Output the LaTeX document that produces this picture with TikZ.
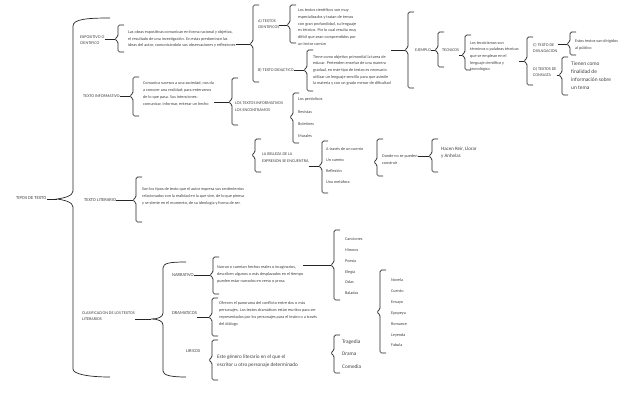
\documentclass[tikz,border=0pt]{standalone}
\usepackage{fontspec}
\setmainfont{Carlito}
\definecolor{tinta}{rgb}{0.25,0.25,0.25}

\tikzset{
  etiq/.style={anchor=west,inner sep=0pt,align=left,text=tinta,font=\fontsize{4.2}{6.7}\selectfont},
  grande/.style={etiq,font=\fontsize{5.4}{8.2}\selectfont},
  lin/.style={line width=0.7pt,draw=black!85},
  llave/.style={lin,rounded corners=1.5pt}
}
% brace: name, x, top, bottom, tip
\newcommand{\corchete}[5]{%
  \draw[llave] (#2+6,#3) -- (#2,#3) -- (#2,#5-2.5) -- (#2-3.5,#5) -- (#2,#5+2.5) -- (#2,#4) -- (#2+6,#4);
  \coordinate (#1) at (#2-3.5,#5);}

\begin{document}
\begin{tikzpicture}[x=1pt,y=-1pt]
\useasboundingbox (0,0) rectangle (638,413);
  % main brace
  \draw[lin] (110,18) .. controls (88,18) and (73,19) .. (73,26) -- (73,191)
    .. controls (73,196) and (64,198) .. (57,199) coordinate (k0)
    .. controls (64,200) and (73,202) .. (73,207) -- (73,369)
    .. controls (73,374) and (88,377) .. (110,377);
  \node[etiq,font=\fontsize{4.6}{6}\selectfont] (tipos) at (16,198) {TIPOS DE TEXTO};
  \draw[lin] (tipos.east |- k0) -- (k0);

  % expositivo
  \node[etiq] (expo) at (80,40) {EXPOSITIVO O\\CIENTIFICO};
  \corchete{k1}{118}{25}{52}{39}
  \draw[lin] (expo.east |- k1) -- (k1);
  \node[etiq] (expotxt) at (128,39) {Las obras expositivas comunican en forma racional y objetiva,\\el resultado de una investigación. En estas predominan las\\ideas del autor, comunicándolo sus observaciones y reflexiones};
  \corchete{k2}{253}{5}{82}{44}
  \draw[lin] (expotxt.east |- k2) -- (k2);
  \node[etiq] (cient) at (258,24) {A) TEXTOS\\CIENTIFICOS};
  \corchete{k3}{290}{5}{43}{25}
  \draw[lin] (cient.east |- k3) -- (k3);
  \node[etiq] (cienttxt) at (298,27) {Los textos científicos son muy\\especializados y tratan de temas\\con gran profundidad, su lenguaje\\es técnico. Por lo cual resulta muy\\difícil que sean comprendidos por\\un lector común};
  \node[etiq] (didac) at (258,70) {B) TEXTO DIDACTICO};
  \corchete{k4}{307}{50}{91}{70}
  \draw[lin] (didac.east |- k4) -- (k4);
  \node[etiq] (didtxt) at (313,70.4) {Tiene como objetivo primordial la tarea de\\educar. Pretenden enseñar de una manera\\gradual, en este tipo de textos es necesario\\utilizar un lenguaje sencillo para que asimile\\la materia y con un grado menor de dificultad};
  \corchete{k5}{408}{12}{88}{50}
  \draw[lin] (didtxt.east |- k5) -- (k5);
  \node[etiq] (ejemplo) at (415,50) {EJEMPLO};
  \corchete{k6}{438}{32}{67}{50}
  \draw[lin] (ejemplo.east |- k6) -- (k6);
  \node[etiq] (tecnicos) at (442,50) {TECNICOS};
  \corchete{k7}{465}{35}{70}{55}
  \draw[lin] (tecnicos.east |- k7) -- (k7);
  \node[etiq] (tectxt) at (470,56.5) {Los tecnicismos son\\términos o palabras técnicas\\que se emplean en el\\lenguaje científico y\\tecnológico};
  \corchete{k8}{527}{37}{85}{61}
  \draw[lin] (tectxt.east |- k8) -- (k8);
  \node[etiq] (divul) at (533,48) {C) TEXTO DE\\DIVULGACION};
  \corchete{k9}{570}{32}{55}{44}
  \draw[lin] (divul.east |- k9) -- (k9);
  \node[etiq] (divtxt) at (575,45) {Estos textos van dirigidos\\al público};
  \node[etiq] (consul) at (533,72) {D) TEXTOS DE\\CONSULTA};
  \corchete{k10}{562}{57}{95}{75}
  \draw[lin] (consul.east |- k10) -- (k10);
  \node[grande] (contxt) at (571,75.8) {Tienen como\\finalidad de\\información sobre\\un tema};

  % informativo
  \node[etiq] (info) at (83,96) {TEXTO INFORMATIVO};
  \corchete{k11}{133}{77}{116}{96}
  \draw[lin] (info.east |- k11) -- (k11);
  \node[etiq] (infotxt) at (143,93.8) {Comunica sucesos a una sociedad, nos da\\a conocer una realidad; para enterarnos\\de lo que pasa. Sus intenciones:\\comunicar, informar, enterar un hecho};
  \corchete{k12}{232}{78}{125}{102}
  \draw[lin] (infotxt.east |- k12) -- (k12);
  \node[etiq] (encont) at (235,106.5) {LOS TEXTOS INFORMATIVOS\\LOS ENCONTRAMOS};
  \corchete{k13}{293}{93}{143}{117}
  \node[etiq] (peri) at (298,99) {Los periódicos};
  \node[etiq] (rev) at (298,112) {Revistas};
  \node[etiq] (bol) at (298,124) {Boletines};
  \node[etiq] (mur) at (298,136) {Murales};
  \corchete{k14}{255}{139}{172}{155}
  \node[etiq] (belleza) at (262,158) {LA BELLEZA DE LA\\EXPRESION SE ENCUENTRA};
  \corchete{k15}{322}{141}{193}{166}
  \draw[lin] (belleza.east |- k15) -- (k15);
  \node[etiq] (traves) at (326,149) {A través de un cuento};
  \node[etiq] (cuento1) at (326,160) {Un cuento};
  \node[etiq] (reflex) at (326,171) {Reflexión};
  \node[etiq] (metaf) at (326,182) {Una metáfora};
  \corchete{k16}{377}{139}{176}{162}
  \node[etiq] (donde) at (382,159.5) {Donde no se pueden\\construir};
  \corchete{k17}{432}{139}{172}{156}
  \draw[lin] (donde.east |- k17) -- (k17);
  \node[etiq,font=\fontsize{5}{7}\selectfont] (hacen) at (441,152.5) {Hacen Reír, Llorar\\y Anhelar.};

  % literario
  \node[etiq,font=\fontsize{4.5}{6}\selectfont] (literario) at (84,200) {TEXTO LITERARIO};
  \corchete{k18}{136}{177}{222}{200}
  \draw[lin] (literario.east |- k18) -- (k18);
  \node[etiq] (littxt) at (142,196.5) {Son los tipos de texto que el autor expresa sus sentimientos\\relacionados con la realidad en la que vive, de lo que piensa\\y se siente en el momento, de su ideología y forma de ser.};

  % clasificacion
  \node[etiq] (clasif) at (82,316) {CLASIFICACION DE LOS TEXTOS\\LITERARIOS};
  \draw[lin] (186,262) .. controls (170,262) and (163,263) .. (163,268) -- (163,313)
    .. controls (163,317) and (158,319) .. (151,319) coordinate (k20)
    .. controls (158,319) and (163,321) .. (163,325) -- (163,371)
    .. controls (163,375) and (170,377) .. (186,377);
  \draw[lin] (clasif.east |- k20) -- (k20);
  \node[etiq,font=\fontsize{4.5}{6}\selectfont] (narr) at (172,275) {NARRATIVO};
  \corchete{k21}{213}{257}{294}{275}
  \draw[lin] (narr.east |- k21) -- (k21);
  \node[etiq,font=\fontsize{4.5}{6}\selectfont] (dram) at (172,313) {DRAMATICOS};
  \corchete{k22}{212}{298}{336}{317}
  \draw[lin] (dram.east |- k22) -- (k22);
  \node[etiq,font=\fontsize{4.5}{6}\selectfont] (liric) at (186,351) {LIRICOS};
  \corchete{k23}{212}{340}{380}{360}
  \node[etiq] (narrtxt) at (217,274.5) {Narran o cuentan hechos reales o imaginarios,\\describen algunos o más desplazados en el tiempo\\pueden estar narrados en verso o prosa};
  \node[etiq,font=\fontsize{4.2}{7.2}\selectfont] (dramtxt) at (219,314) {Ofrecen el panorama del conflicto entre dos o más\\personajes. Los textos dramáticos están escritos para ser\\representados por los personajes para el teatro o a través\\del diálogo};
  \node[etiq,font=\fontsize{5.2}{8}\selectfont] (lirtxt) at (217,361) {Este género literario en el que el\\escritor u otro personaje determinado};

  \corchete{k24}{334}{230}{300}{265}
  \draw[lin] (narrtxt.east |- k24) -- (k24);
  \node[etiq] (canc) at (345,239) {Canciones};
  \node[etiq] (himn) at (345,250) {Himnos};
  \node[etiq] (poes) at (345,261) {Poesía};
  \node[etiq] (eleg) at (345,272) {Elegía};
  \node[etiq] (odas) at (345,282) {Odas};
  \node[etiq] (bala) at (345,293) {Baladas};
  \corchete{k25}{380}{270}{353}{312}
  \node[etiq] (novela) at (391,280) {Novela};
  \node[etiq] (cuento2) at (391,291) {Cuento};
  \node[etiq] (ensayo) at (391,302) {Ensayo};
  \node[etiq] (epop) at (391,313) {Epopeya};
  \node[etiq] (roman) at (391,324) {Romance};
  \node[etiq] (leyen) at (391,335) {Leyenda};
  \node[etiq] (fabula) at (391,345) {Fabula};
  \corchete{k26}{334}{335}{373}{353}
  \node[etiq,font=\fontsize{5.3}{7}\selectfont] (trag) at (342,342) {Tragedia};
  \node[etiq,font=\fontsize{5.3}{7}\selectfont] (drama) at (342,354) {Drama};
  \node[etiq,font=\fontsize{5.3}{7}\selectfont] (comed) at (342,367) {Comedia};
\end{tikzpicture}
\end{document}
